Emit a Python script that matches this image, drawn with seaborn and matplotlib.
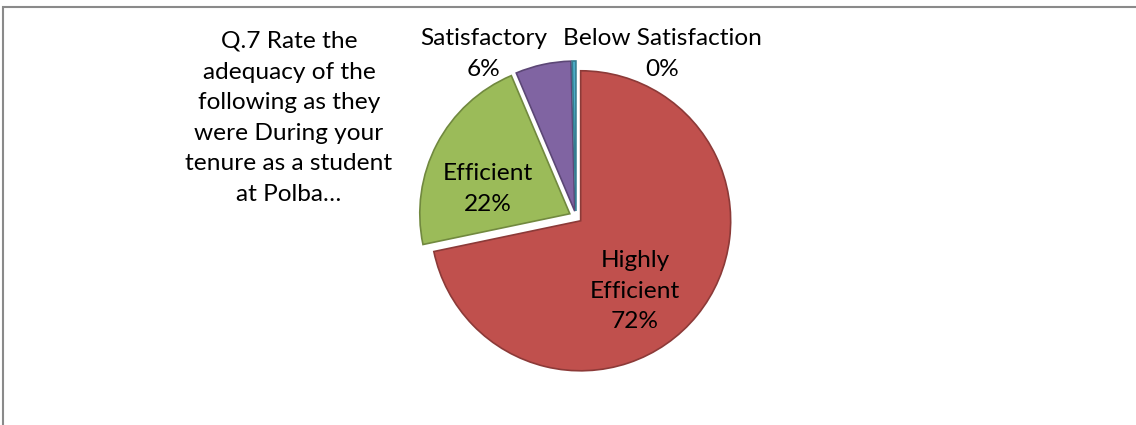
import matplotlib
matplotlib.use("Agg")
import matplotlib.pyplot as plt
import seaborn as sns

categories = ["Highly Efficient", "Efficient", "Satisfactory", "Below Satisfaction"]
values = [72, 22, 6, 0.4]
title_text = "Q.7 Rate the\nadequacy of the\nfollowing as they\nwere During your\ntenure as a student\nat Polba\u2026"

sns.set_theme(style="white")
plt.rcParams['font.family'] = ['Lato', 'DejaVu Sans']

colors = ["#C0504D", "#9BBB59", "#8064A2", "#4BACC6"]
edges = ["#8C3A38", "#71893F", "#5C4776", "#357D91"]

W, H = 1136, 425
fig = plt.figure(figsize=(W / 100, H / 100), dpi=100)
ax = fig.add_axes([0, 0, 1, 1])

cx, cy, r = 576, H - 217, 150
wedges, _ = ax.pie(values, startangle=90, counterclock=False, colors=colors,
                   explode=[6, 7, 6, 6], center=(cx, cy), radius=r,
                   wedgeprops=dict(linewidth=1.2))
for w, ec in zip(wedges, edges):
    w.set_edgecolor(ec)

ax.set_xlim(0, W)
ax.set_ylim(0, H)
ax.set_aspect('equal')
ax.axis('off')

total = sum(values)
pcts = [f"{round(v / total * 100):.0f}%" for v in values]

fs = 17.6
ls = 1.565
ax.text(635, H - 291, "Highly\nEfficient\n" + pcts[0], ha='center', va='center',
        fontsize=fs, linespacing=ls, color='black')
ax.text(488, H - 189, categories[1] + "\n" + pcts[1], ha='center', va='center',
        fontsize=fs, linespacing=ls, color='black')
ax.text(484, H - 54, categories[2] + "\n" + pcts[2], ha='center', va='center',
        fontsize=fs, linespacing=ls, color='black')
ax.text(662, H - 54, categories[3] + "\n" + pcts[3], ha='center', va='center',
        fontsize=fs, linespacing=ls, color='black')
ax.text(289, H - 118, title_text, ha='center', va='center',
        fontsize=fs, linespacing=ls, color='black')

# chart border
ax.plot([2.5, 2.5, W + 5], [-5, H - 6.5, H - 6.5], color='#8a8a8a', lw=1.5,
        clip_on=False, solid_joinstyle='miter')

fig.savefig("out.png", dpi=100, facecolor='white')
